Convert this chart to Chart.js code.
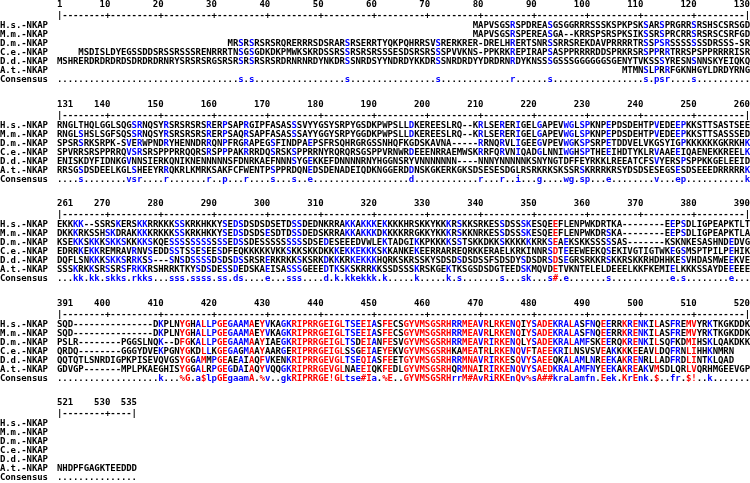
<!DOCTYPE html>
<html><head><meta charset="utf-8">
<script src="https://cdn.jsdelivr.net/npm/chart.js@4/dist/chart.umd.min.js"></script>
<style>html,body{margin:0;padding:0;background:#fff;}canvas{display:block;}</style>
</head><body>
<canvas id="c" width="750" height="483"></canvas>
<script>
// ---------- data ----------
const species = ["H.s.-NKAP","M.m.-NKAP","D.m.-NKAP","C.e.-NKAP","D.d.-NKAP","A.t.-NKAP"];
const consensusLabel = "Consensus";

const block1Start = [79, 79, 33, 5, 1, 107];
const block1Seq = [
 "MAPVSGSRSPDREASGSGGRRRSSSKSPKPSKSARSPRGRRSRSHSCSRSGD",
 "MAPVSGSRSPEREASGA--KRRSPSRSPKSIKSSRSPRCRRSRSRSCSRFGD",
 "MRSRSRSRSRQRERRRSDSRARSRSERRTYQKPQHRRSVSRERKRER-DRELHRERTSNRSSRRSREKDAVPRRRRTRSSPSRSSSSSSSDRSSS-SR",
 "MSDISLDYEGSSDDSRSSRSSSRENRRRTNSGSGDKDKPMWKSKRDSSRSSRSRSRSSSESDSRSRSSSPVVKNS-PPKRKREPIRAPSASPPRRRRDDSPRKRSRSPPRRTRRSPSPPRRRRISR",
 "MSHRERDRDRDRDSDRDRDRNRYSRSRSRGSRSRSRSRSRSRDRNRNRDYNKDRSSNRDSYYNDRDYKKDRSSNRDRDYYDRDRNRDYKNSSSGSSSGGGGGGSGENYTVKSSSYRESNSNNSKYEIQKQ",
 "MTMNSLPRRFGKNHGYLDRDYRNG"
];
const block2Seq = [
 "RNGLTHQLGGLSQGSRNQSYRSRSRSRSRERPSAPRGIPFASASSSVYYGSYSRPYGSDKPWPSLLDKEREESLRQ--KRLSERERIGELGAPEVWGLSPKNPEPDSDEHTPVEDEEPKKSTTSASTSEE",
 "RNGLSHSLSGFSQSSRNQSYRSRSRSRSRERPSAQRSAPFASASSSAYYGGYSRPYGGDKPWPSLLDKEREESLRQ--KRLSERERIGELGAPEVWGLSPKNPEPDSDEHTPVEDEEPKKSTTSASSSED",
 "SPSRSRKSRPK-SVERWPNDRYHENNDRRQNPFRGRAPEGSFINDPAEPSFRSQHRGRGSSNHQFKGDSKAVNA-----RRNQRVLIGEEGVPEVWGKSPSRPETDDVELVKGSYIGPKKKKKKGKRKHK",
 "SPVRRSRSPPRRQVSRSRSPPPRRQQRSRSPPPAKRRRDQSRSKSPPRRNYRQRQRSGSPPVRNWRDEEENRRAEMWSKRRFQRVNIQADGLNNIWGHSPTHEEIHDTYKLRVAAEEIQAENEKKREELK",
 "ENISKDYFIDNKGVNNSIERKQNIKNENNNNNSFDNRKAEFNNNSYGEKKEFDNNNNRNYHGGNSRYVNNNNNNN----NNNYNNNNNKSNYNGTDFFEYRKKLREEATCFSVYERSPSPPKKGELEEID",
 "RRSGSDSDEELKGLSHEEYRRQKRLKMRKSAKFCFWENTPSPPRDQNEDSDENADEIQDKNGGERDDNSKGKERKGKSDSESESDGLRSRKRKSKSSRSKRRRKRSYDSDSESEGSESDSEEEDRRRRRK"
];
const block3Seq = [
 "EKKKK--SSRSKERSKKRRKKKSSKRKHKKYSEDSDSDSDSETDSSDEDNKRRAKKAKKKEKKKKHRSKKYKKKRSKKSRKESSDSSSKESQEEFLENPWKDRTKA--------EEPSDLIGPEAPKTLT",
 "DKKKRKSSHSKDRAKKKKRKKKSSKRKHKKYSEDSDSDSESDTDSSDEDSKRRAKKAKKKDKKKKRRGKKYKKKRSKKNRKESSDSSSKESQEEFLENPWKDRSKA--------EEPSDLIGPEAPKTLA",
 "KSEKKSKKKSKKSKKKKSKQESSSSSSSSSSSEDSSDESSSSSSSSSDSEDESEEEDVWLEKTADGIKKPKKKKSSTSKKDKKSKKKKKKRKSEAEKSKKSSSSSAS-------KSKNKESASHNDEDVG",
 "EDRRKEKKREMRAVRNVSEDDSSTSSESEESDFEQKKKKKVKKSKKSKKDKKKEKKEKKKSKKANKEKEERRARREQRKKERAELKRKINNRSDTEEEWEEKQSEKIVGTIGTWKEGSMSPTPILPEHIK",
 "DQFLSNKKKSKKSRRKSS---SNSDSSSSDSDSDSSRSRERKRKKSKSRKDKKKRKEKKKHQRKSKRSSKYSDSDSDSDSSFSDSDYSDSDRSDSEGRSRKKRSKKRSKKRHDHHKESVHDASMWEEKVE",
 "SSSKRKKSRSSRSFRKKRSHRRKTKYSDSDESSDEDSKAEISASSSGEEEDTKSKSKRRKKSSDSSSKRSKGEKTKSGSDSDGTEEDSKMQVDETVKNTELELDEEELKKFKEMIELKKKSSAYDEEEEE"
];
const block4Seq = [
 "SQD---------------DKPLNYGHALLPGEGAAMAEYVKAGKRIPRRGEIGLTSEEIASFECSGYVMSGSRHRRMEAVRLRKENQIYSADEKRALASFNQEERRKRENKILASFREMVYRKTKGKDDK",
 "SQD---------------DKPLNYGHALLPGEGAAMAEYVKAGKRIPRRGEIGLTSEEIASFECSGYVMSGSRHRRMEAVRLRKENQIYSADEKRALASFNQEERRKRENKILASFREMVYRKTKGKDDK",
 "PSLR--------PGGSLNQK--DFGKALLPGEGAAMAAYIAEGKRIPRRGEIGLTSDEIANFESVGYVMSGSRHRRMEAVRIRKENQLYSADEKRALAMFSKEERQKRENKILSQFKDMIHSKLQAKDKK",
 "QRDQ--------GGGYDVEKPGNYGKDLLKGEGAGMAAYAARGERIPRRGEIGLSSGEIAEYEKVGYVMSGSRHKAMEATRLRKENQVFTAEEKRILNSVSVEAKKKKEEAVLDQFRNLIHHKNMRN",
 "QQTQTLSNRDIGPKPISEVQVGSYGGAMMPGEAEAIAQFVKENKRIPRRGEVGLTSEQIASFEETGYVMSGSRHRRMNAVRIRKESQVYSAEEQKALAMLNREEKAKRENRLLADFRDLINTKLQAD",
 "GDVGP-------MPLPKAEGHISYGGALRPGEGDAIAQYVQQGKRIPRRGEVGLNAEEIQKFEDLGYVMSGSRHQRMNAIRIRKENQVYSAEDKRALAMFNYEEKAKREAKVMSDLQRLVQRHMGEEVGP"
];
const block5Seq = ["", "", "", "", "", "NHDPFGAGKTEEDDD"];

const consensus1 = ".............................." + "....s.s..." + ".........." + "....s....." + ".........." + ".s........" + ".....r...." + "..s......." + ".........." + "s.psr....s" + "..........";
const consensus2 = "....s....." + "...vsr...." + "r.......r." + ".p...r...." + "s...s..e.." + ".........." + "......d..." + ".........r" + "...r..i..." + "g....wg.sp" + "...e......" + "..v...ep.." + ".........k";
const consensus3 = "...kk.kk.s" + "kks.rkks.." + ".sss.ssss." + "ss.ds....e" + "...sss...." + "d.k.kkekkk" + ".k..." + "..k.." + "...k.s...." + "...s...sk." + "..s#.e...." + "...s......" + ".....e.s.." + "......e...";
const consensus4 = "..................." + "k..." + "%G.a$lpGEgaamA.%v..gkRIPRRGE!GLtse#Ia.%E.." + "GYVMSGSRHrrM#AvRiRKEnQv%sA##kraLamfn.Eek.KrEnk.$..fr.$!..k.......";
const consensus5 = "...............";

const ticks1 = ["1","10","20","30","40","50","60","70","80","90","100","110","120","130"];
const ticks2 = ["131","140","150","160","170","180","190","200","210","220","230","240","250","260"];
const ticks3 = ["261","270","280","290","300","310","320","330","340","350","360","370","380","390"];
const ticks4 = ["391","400","410","420","430","440","450","460","470","480","490","500","510","520"];
const ticks5 = ["521","530","535"];

const blocks = [
 {first:1,   last:130, starts:block1Start,   seqs:block1Seq, cons:consensus1, ticks:ticks1},
 {first:131, last:260, starts:[1,1,1,1,1,1], seqs:block2Seq, cons:consensus2, ticks:ticks2},
 {first:261, last:390, starts:[1,1,1,1,1,1], seqs:block3Seq, cons:consensus3, ticks:ticks3},
 {first:391, last:520, starts:[1,1,1,1,1,1], seqs:block4Seq, cons:consensus4, ticks:ticks4},
 {first:521, last:535, starts:[1,1,1,1,1,1], seqs:block5Seq, cons:consensus5, ticks:ticks5}
];

// ---------- styling ----------
const RED = "#ff0000", BLUE = "#0000ff", BLACK = "#000000";
const FONT = 'bold 9px "DejaVu Sans Mono"';
const groups = {"!":"IV", "$":"LM", "%":"FY", "#":"NDQEBZ"};
const BLOCK_PITCH = 11.056;   // in line units
const ROW_NUM = 0, ROW_BAR = 1.2, ROW_SEQ0 = 2.333, ROW_CONS = 8.333;

function residueColor(ch, cc){
  if (!cc || cc === "." || ch === "-" || ch === " ") return BLACK;
  if (groups[cc]) return groups[cc].indexOf(ch) >= 0 ? RED : BLACK;
  if (cc >= "A" && cc <= "Z") return ch === cc ? RED : BLACK;
  if (cc >= "a" && cc <= "z") return ch === cc.toUpperCase() ? BLUE : BLACK;
  return BLACK;
}
function consColor(cc){
  if (groups[cc]) return RED;
  if (cc >= "A" && cc <= "Z") return RED;
  if (cc >= "a" && cc <= "z") return BLUE;
  return BLACK;
}

const alignmentPlugin = {
  id: "alignmentText",
  afterDatasetsDraw(chart){
    const ctx = chart.ctx, xs = chart.scales.x, ys = chart.scales.y;
    const cellW = xs.getPixelForValue(2) - xs.getPixelForValue(1);
    ctx.save();
    ctx.font = FONT;
    ctx.textBaseline = "alphabetic";
    const put = (ch, col, yv, color) => {
      ctx.fillStyle = color;
      ctx.textAlign = "center";
      ctx.fillText(ch, xs.getPixelForValue(col), ys.getPixelForValue(yv) + 3.4);
    };
    const putLabel = (txt, yv) => {
      for (let j = 0; j < txt.length; j++) put(txt[j], -9.7 + j, yv, BLACK);
    };
    blocks.forEach((b, bi) => {
      const base = bi * BLOCK_PITCH;
      const n = b.last - b.first + 1;
      // ruler numbers
      b.ticks.forEach((t, ti) => {
        const local = parseInt(t, 10) - b.first + 1;
        ctx.fillStyle = BLACK;
        const y = ys.getPixelForValue(base + ROW_NUM) + 3.4;
        if (ti === 0) {
          ctx.textAlign = "left";
          ctx.fillText(t, xs.getPixelForValue(local) - cellW/2, y);
        } else {
          ctx.textAlign = "right";
          ctx.fillText(t, xs.getPixelForValue(local) + cellW/2, y);
        }
      });
      // ruler bar
      for (let c = 1; c <= n; c++) {
        const g = b.first + c - 1;
        let ch = "-";
        if (c === 1 || c === n) ch = "|";
        else if (g % 10 === 0) ch = "+";
        put(ch, c, base + ROW_BAR, BLACK);
      }
      // sequences
      species.forEach((name, si) => {
        const yv = base + ROW_SEQ0 + si;
        putLabel(name, yv);
        const s = b.seqs[si], st = b.starts[si];
        for (let k = 0; k < s.length; k++) {
          const col = st + k;
          const ch = s[k];
          put(ch, col, yv, residueColor(ch, b.cons[col - 1]));
        }
      });
      // consensus
      const yc = base + ROW_CONS;
      putLabel(consensusLabel, yc);
      for (let c = 1; c <= n; c++) {
        const cc = b.cons[c - 1] || ".";
        put(cc, c, yc, consColor(cc));
      }
    });
    ctx.restore();
  }
};

new Chart(document.getElementById("c"), {
  type: "scatter",
  data: { datasets: [{ data: [], pointRadius: 0 }] },
  options: {
    responsive: false,
    animation: false,
    events: [],
    layout: { padding: 0 },
    plugins: { legend: { display: false }, tooltip: { enabled: false } },
    scales: {
      x: { type: "linear", min: -10.2, max: 130.5, display: false },
      y: { type: "linear", min: -0.444, max: -0.444 + 483/9, reverse: true, display: false }
    }
  },
  plugins: [alignmentPlugin]
});
</script>
</body></html>
